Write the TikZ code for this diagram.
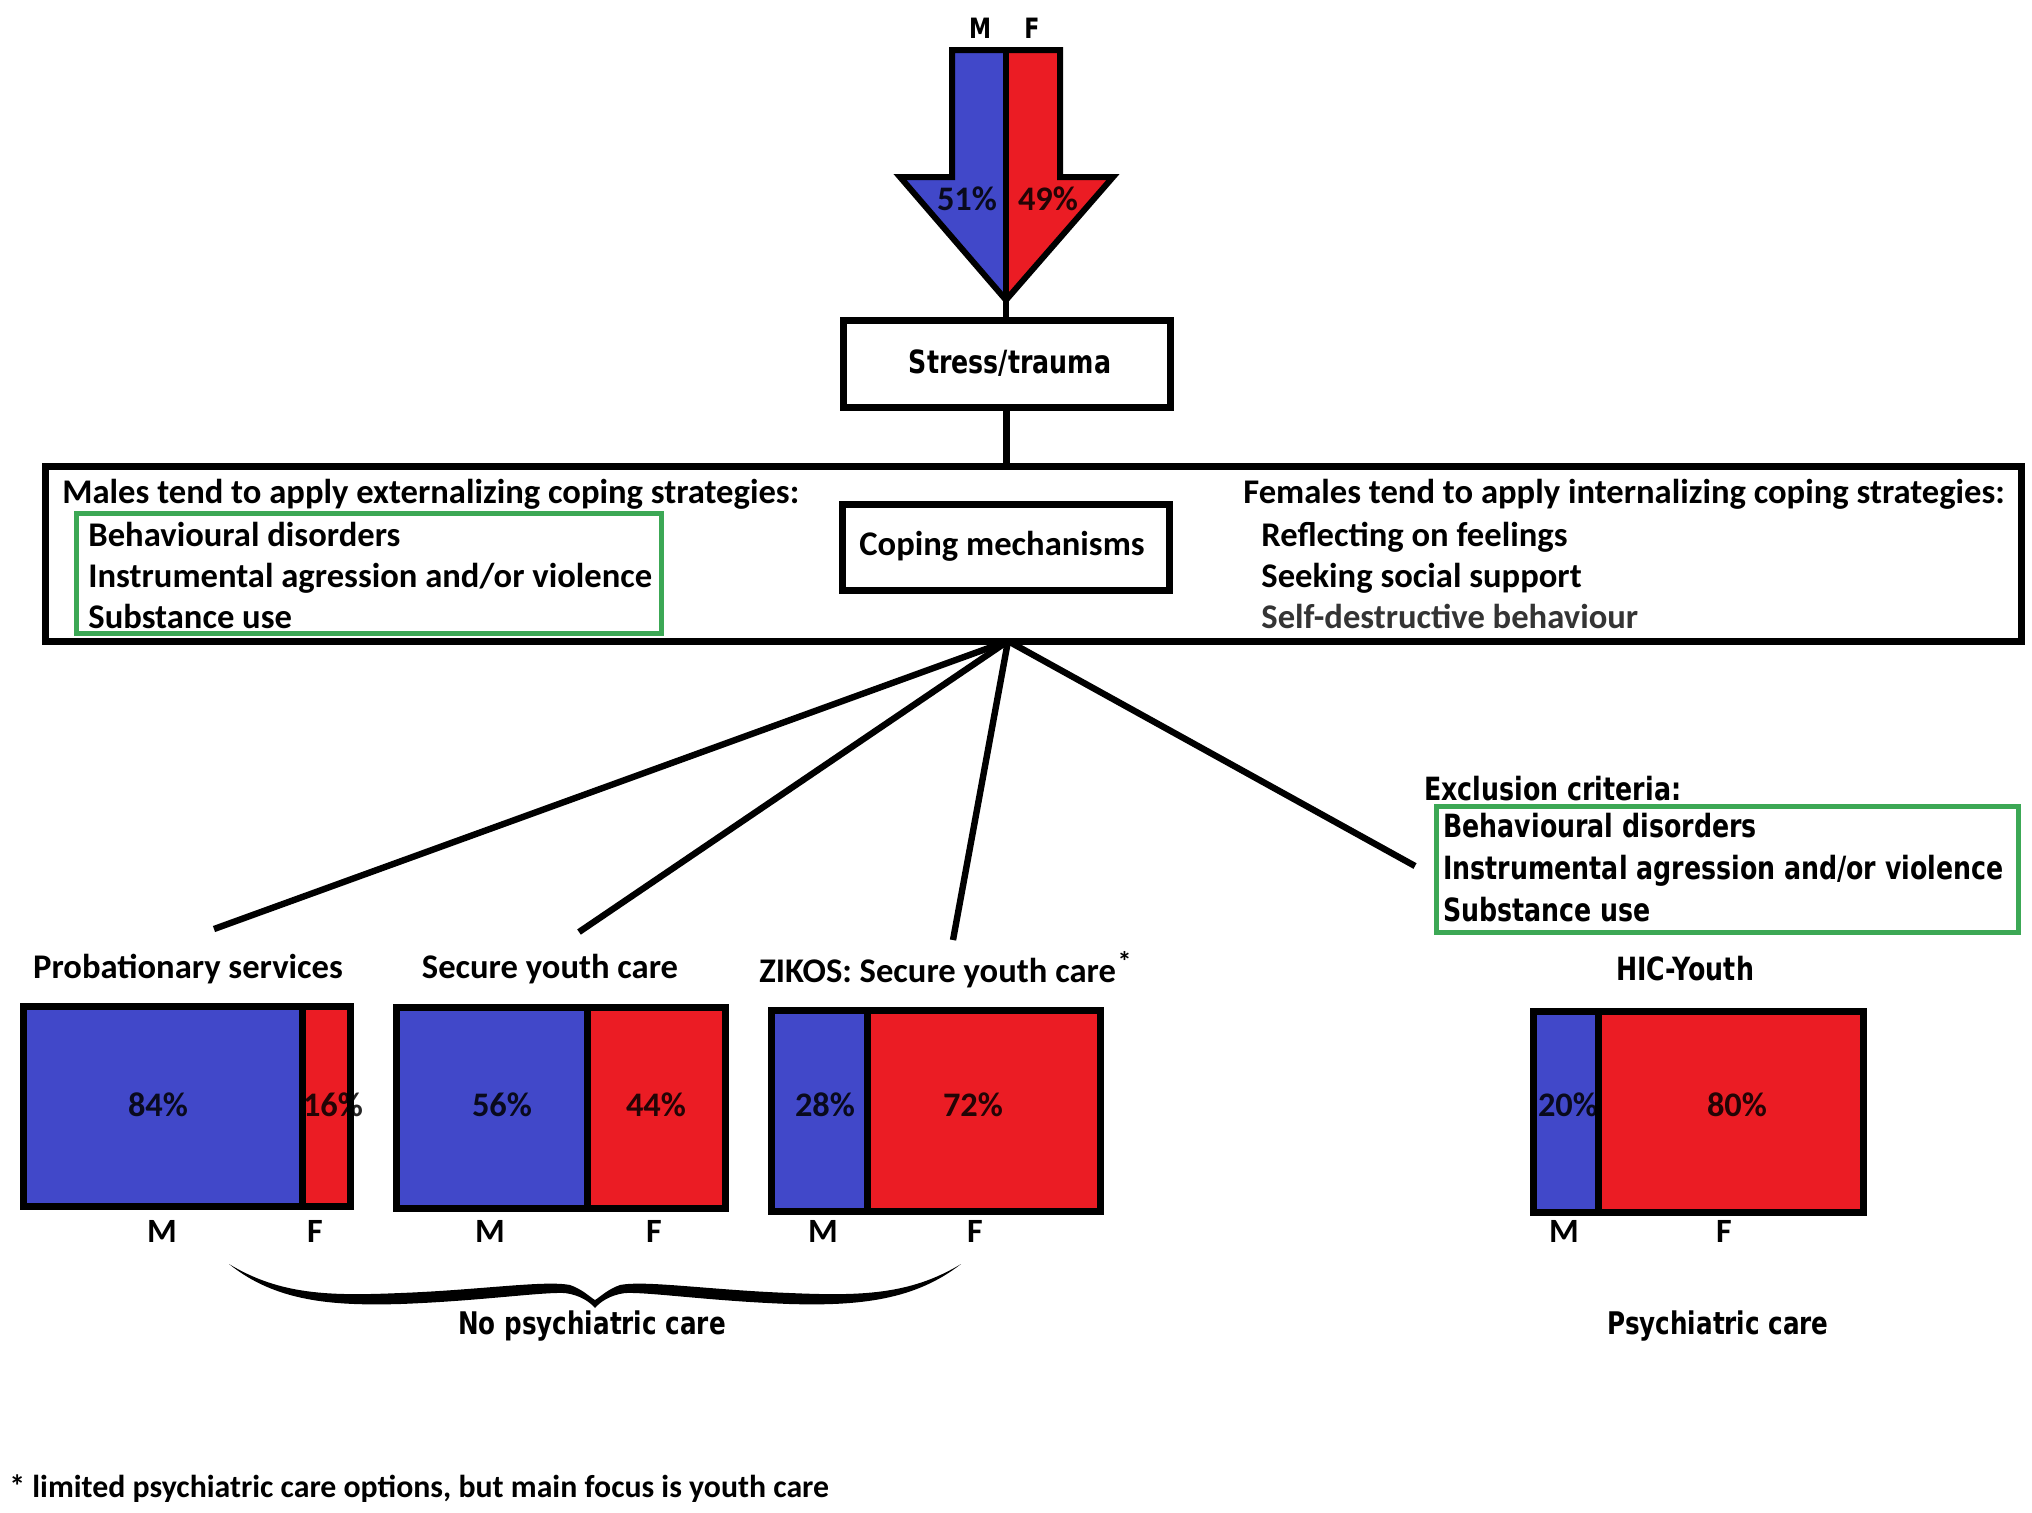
\documentclass[tikz,border=0pt]{standalone}
\usepackage{fontspec}
\setmainfont{Carlito}
\newfontfamily\tahfam[FakeStretch=0.79]{DejaVu Sans}
\usetikzlibrary{fit}
\definecolor{mblue}{RGB}{65,72,201}
\definecolor{fred}{RGB}{235,28,36}
\definecolor{gbox}{RGB}{60,168,85}
\definecolor{dgray}{RGB}{52,52,52}
\tikzset{
  cal/.style={font=\fontsize{17.3}{19}\selectfont\bfseries, inner sep=0pt},
  calsm/.style={font=\fontsize{17}{19}\selectfont\bfseries, inner sep=0pt},
  tah/.style={font={\tahfam\bfseries\fontsize{16}{18}\selectfont}, inner sep=0pt},
  pct/.style={font=\fontsize{17.2}{19}\selectfont\bfseries, inner sep=0pt, text=black, text opacity=0.85},
  frame/.style={draw=black, line width=3.5pt, inner sep=0pt},
  greenbox/.style={draw=gbox, line width=2.5pt, inner sep=0pt},
  link/.style={draw=black, line width=3.2pt},
}
\newcommand\mybar[6]{%
  \fill[mblue] (#1,#2) rectangle (#5,#4);
  \fill[fred] (#5,#2) rectangle (#3,#4);
  \node[frame, fit={(#1,#2) (#3,#4)}] (#6) {};
  \draw[line width=3.5pt] (#5,#2) -- (#5,#4);
}
\begin{document}
\begin{tikzpicture}[x=0.5pt,y=-0.5pt]
\useasboundingbox[fill=white] (0,0) rectangle (2032,1512);

% top arrow
\fill[mblue] (952,50) -- (1006,50) -- (1006,300) -- (900,177) -- (952,177) -- cycle;
\fill[fred] (1060,50) -- (1006,50) -- (1006,300) -- (1113,177) -- (1060,177) -- cycle;
\draw[line width=3pt, line join=miter] (952,50) -- (1060,50) -- (1060,177) -- (1113,177) -- (1006,300) -- (900,177) -- (952,177) -- cycle;
\draw[line width=3pt] (1006,50) -- (1006,300);
\coordinate (tip) at (1006,300);
\node[tah, font={\tahfam\bfseries\fontsize{14}{16}\selectfont}, anchor=base] (topM) at (980,38) {M};
\node[tah, font={\tahfam\bfseries\fontsize{14}{16}\selectfont}, anchor=base] (topF) at (1032,38) {F};
\node[pct, anchor=base] (p51) at (967,210) {51\%};
\node[pct, anchor=base] (p49) at (1048,210) {49\%};

% stress box
\node[frame, fit={(843,320) (1170,407)}] (stress) {};
\node[tah, anchor=base] (stresst) at (1010,373) {Stress/trauma};
\draw[link] (tip) -- (stress.north -| tip);

% big box
\node[frame, fit={(45,466) (2021,641)}] (big) {};
\draw[link] (stress.south) -- (big.north -| stress.south);

\node[cal, anchor=base west] (mh) at (62,503) {Males tend to apply externalizing coping strategies:};
\node[greenbox, fit={(76.5,513) (661,633)}] (gl) {};
\node[cal, anchor=base west] (m1) at (88,546) {Behavioural disorders};
\node[cal, anchor=base west] (m2) at (88,587) {Instrumental agression and/or violence};
\node[cal, anchor=base west] (m3) at (88,628) {Substance use};

\node[frame, fit={(842,504) (1169,590)}] (coping) {};
\node[cal, anchor=base] (copingt) at (1002,555) {Coping mechanisms};

\node[cal, anchor=base west] (fh) at (1243,503) {Females tend to apply internalizing coping strategies:};
\node[cal, anchor=base west] (f1) at (1261,546) {Reflecting on feelings};
\node[cal, anchor=base west] (f2) at (1261,587) {Seeking social support};
\node[cal, anchor=base west, text=dgray] (f3) at (1261,628) {Self-destructive behaviour};

% connectors
\coordinate (hub) at (1008,641);
\coordinate (e1) at (214,929);
\coordinate (e2) at (579,932);
\coordinate (e3) at (953,940);
\coordinate (e4) at (1415,866);
\draw[link] (hub) -- (e1);
\draw[link] (hub) -- (e2);
\draw[link] (hub) -- (e3);
\draw[link] (hub) -- (e4);

% exclusion criteria
\node[tah, anchor=base west] (exh) at (1424,800) {Exclusion criteria:};
\node[greenbox, fit={(1436,806) (2018,932)}] (gr) {};
\node[tah, anchor=base west] (x1) at (1443,837) {Behavioural disorders};
\node[tah, anchor=base west] (x2) at (1443,879) {Instrumental agression and/or violence};
\node[tah, anchor=base west] (x3) at (1443,921) {Substance use};

% titles
\node[cal, anchor=base] (t1) at (188,978) {Probationary services};
\node[cal, anchor=base] (t2) at (550,978) {Secure youth care};
\node[cal, anchor=base west] (t3) at (759,982) {ZIKOS: Secure youth care};
\node[calsm, anchor=base west] (ast) at ([xshift=0.5pt]t3.base east) {\raisebox{0.32em}{\fontsize{14}{14}\selectfont *}};
\node[tah, anchor=base] (t4) at (1685,980) {HIC-Youth};

% bars
\mybar{23.5}{1006.5}{350.5}{1206.5}{302}{b1}
\mybar{396.5}{1007.5}{725.5}{1208.5}{587}{b2}
\mybar{771.5}{1010.5}{1100.5}{1211.5}{867}{b3}
\mybar{1533.5}{1011.5}{1863.5}{1212.5}{1598}{b4}

\node[pct, anchor=base] at (158,1116) {84\%};
\node[pct, anchor=base] at (333,1116) {16\%};
\node[pct, anchor=base] at (502,1116) {56\%};
\node[pct, anchor=base] at (656,1116) {44\%};
\node[pct, anchor=base] at (825,1116) {28\%};
\node[pct, anchor=base] at (973,1116) {72\%};
\node[pct, anchor=base] at (1568,1116) {20\%};
\node[pct, anchor=base] at (1737,1116) {80\%};

\foreach \mx/\fx in {162/315, 490/654, 823/975, 1564/1724}{
  \node[calsm, anchor=base] at (\mx,1242) {M};
  \node[calsm, anchor=base] at (\fx,1242) {F};
}

% brace
\fill (229,1264) .. controls (280,1295) and (330,1296) .. (400,1293)
  .. controls (480,1290) and (545,1280) .. (570,1285)
  .. controls (582,1289) and (590,1297) .. (595,1300)
  .. controls (600,1297) and (608,1289) .. (620,1285)
  .. controls (645,1280) and (710,1290) .. (790,1293)
  .. controls (860,1296) and (910,1295) .. (961,1264)
  .. controls (915,1300) and (860,1306) .. (790,1304)
  .. controls (710,1301) and (650,1292) .. (625,1293)
  .. controls (610,1295) and (600,1302) .. (595,1308)
  .. controls (590,1302) and (580,1295) .. (565,1293)
  .. controls (540,1292) and (480,1301) .. (400,1304)
  .. controls (330,1306) and (275,1301) .. (229,1264) -- cycle;

\node[tah, font={\tahfam\bfseries\fontsize{15.6}{17}\selectfont}, anchor=base] (nopsy) at (592,1334) {No psychiatric care};
\node[tah, font={\tahfam\bfseries\fontsize{15.6}{17}\selectfont}, anchor=base] (psy) at (1718,1334) {Psychiatric care};

\node[cal, font=\fontsize{15.9}{18}\selectfont\bfseries, anchor=base west] (foot) at (9,1497) {* limited psychiatric care options, but main focus is youth care};
\end{tikzpicture}
\end{document}
